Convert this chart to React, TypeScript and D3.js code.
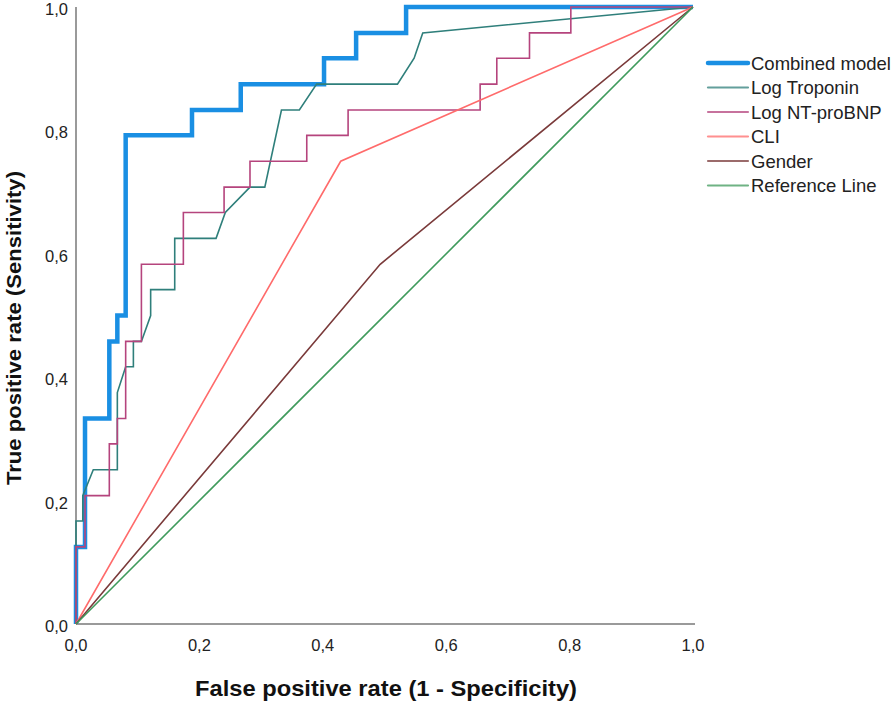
import React from "react";
import * as d3 from "d3";

// ---- Data (FPR, TPR pairs per series) ----
const seriesNames = ["Combined model", "Log Troponin", "Log NT-proBNP", "CLI", "Gender", "Reference Line"];

const combinedFpr = [0, 0, 0.0146, 0.0146, 0.054, 0.054, 0.067, 0.067, 0.0805, 0.0805, 0.188, 0.188, 0.267, 0.267, 0.402, 0.402, 0.454, 0.454, 0.535, 0.535, 1];
const combinedTpr = [0, 0.125, 0.125, 0.333, 0.333, 0.458, 0.458, 0.5, 0.5, 0.792, 0.792, 0.833, 0.833, 0.875, 0.875, 0.917, 0.917, 0.958, 0.958, 1, 1];

const troponinFpr = [0, 0, 0.011, 0.011, 0.028, 0.067, 0.067, 0.0805, 0.093, 0.093, 0.106, 0.121, 0.121, 0.16, 0.16, 0.227, 0.242, 0.282, 0.306, 0.333, 0.362, 0.39, 0.521, 0.548, 0.562, 1];
const troponinTpr = [0, 0.167, 0.167, 0.208, 0.25, 0.25, 0.375, 0.417, 0.417, 0.458, 0.458, 0.5, 0.542, 0.542, 0.625, 0.625, 0.667, 0.708, 0.708, 0.833, 0.833, 0.875, 0.875, 0.917, 0.958, 1];

const bnpFpr = [0, 0, 0.0146, 0.0146, 0.054, 0.054, 0.067, 0.067, 0.0805, 0.0805, 0.106, 0.106, 0.174, 0.174, 0.24, 0.24, 0.282, 0.282, 0.374, 0.374, 0.441, 0.441, 0.655, 0.655, 0.682, 0.682, 0.735, 0.735, 0.802, 0.802, 1];
const bnpTpr = [0, 0.125, 0.125, 0.208, 0.208, 0.292, 0.292, 0.333, 0.333, 0.458, 0.458, 0.583, 0.583, 0.667, 0.667, 0.708, 0.708, 0.75, 0.75, 0.792, 0.792, 0.833, 0.833, 0.875, 0.875, 0.917, 0.917, 0.958, 0.958, 1, 1];

const cliFpr = [0, 0.429, 1];
const cliTpr = [0, 0.75, 1];

const genderFpr = [0, 0.493, 1];
const genderTpr = [0, 0.583, 1];

const refFpr = [0, 1];
const refTpr = [0, 1];

const tickValues = [0, 0.2, 0.4, 0.6, 0.8, 1.0];
const tickLabels = ["0,0", "0,2", "0,4", "0,6", "0,8", "1,0"];

const xTitle = "False positive rate (1 - Specificity)";
const yTitle = "True positive rate (Sensitivity)";

// ---- Styles ----
const colors = ["#1a8fe3", "#2f7f7b", "#b5447d", "#ff6b6b", "#7a3a3a", "#3f9a5c"];
const widths = [4.5, 1.6, 1.6, 1.6, 1.6, 1.6];
const FONT = "'Liberation Sans', Arial, sans-serif";

export default function App() {
  const W = 896, H = 702;
  const x = d3.scaleLinear().domain([0, 1]).range([76, 693]);
  const y = d3.scaleLinear().domain([0, 1]).range([624, 7]);

  const allSeries = [
    [combinedFpr, combinedTpr],
    [troponinFpr, troponinTpr],
    [bnpFpr, bnpTpr],
    [cliFpr, cliTpr],
    [genderFpr, genderTpr],
    [refFpr, refTpr],
  ];

  const line = d3.line<[number, number]>().x((d) => x(d[0])).y((d) => y(d[1]));

  const paths = allSeries.map(([fx, ty]) => line(fx.map((v, i) => [v, ty[i]] as [number, number])) || "");

  const legendX0 = 708, legendX1 = 748, legendY0 = 63, legendStep = 24.5;

  return (
    <svg width={W} height={H} style={{ position: "absolute", left: 0, top: 0, background: "#fff" }}>
      {/* axes */}
      <line x1={x(0)} x2={x(0)} y1={y(1)} y2={y(0)} stroke="#9a9a9a" strokeWidth={2} />
      <line x1={x(0)} x2={x(1) + 2} y1={y(0)} y2={y(0)} stroke="#9a9a9a" strokeWidth={2} />

      {tickValues.map((t, i) => (
        <text key={"yt" + i} x={68} y={y(t) + 8} textAnchor="end" fontFamily={FONT} fontSize={16.5} fill="#222">
          {tickLabels[i]}
        </text>
      ))}
      {tickValues.map((t, i) => (
        <text key={"xt" + i} x={x(t)} y={651} textAnchor="middle" fontFamily={FONT} fontSize={16.5} fill="#222">
          {tickLabels[i]}
        </text>
      ))}

      {/* series */}
      {paths.map((p, i) => (
        <path key={"s" + i} d={p} fill="none" stroke={colors[i]} strokeWidth={widths[i]} strokeLinejoin="miter" />
      ))}

      {/* legend */}
      {seriesNames.map((n, i) => (
        <g key={"lg" + i}>
          <line
            x1={legendX0}
            x2={legendX1}
            y1={legendY0 + i * legendStep}
            y2={legendY0 + i * legendStep}
            stroke={colors[i]}
            strokeWidth={widths[i] === 4.5 ? 4.5 : 2.2}
            strokeLinecap="round"
            opacity={i === 0 ? 1 : 0.75}
          />
          <text x={751} y={legendY0 + i * legendStep + 6.5} fontFamily={FONT} fontSize={18.5} fill="#222">
            {n}
          </text>
        </g>
      ))}

      {/* titles */}
      <text
        x={386}
        y={696}
        textAnchor="middle"
        fontFamily={FONT}
        fontSize={22}
        fontWeight="bold"
        fill="#111"
        textLength={382}
        lengthAdjust="spacingAndGlyphs"
      >
        {xTitle}
      </text>
      <text
        transform={`translate(21, 328) rotate(-90)`}
        textAnchor="middle"
        fontFamily={FONT}
        fontSize={21}
        fontWeight="bold"
        fill="#111"
        textLength={314}
        lengthAdjust="spacingAndGlyphs"
      >
        {yTitle}
      </text>
    </svg>
  );
}
